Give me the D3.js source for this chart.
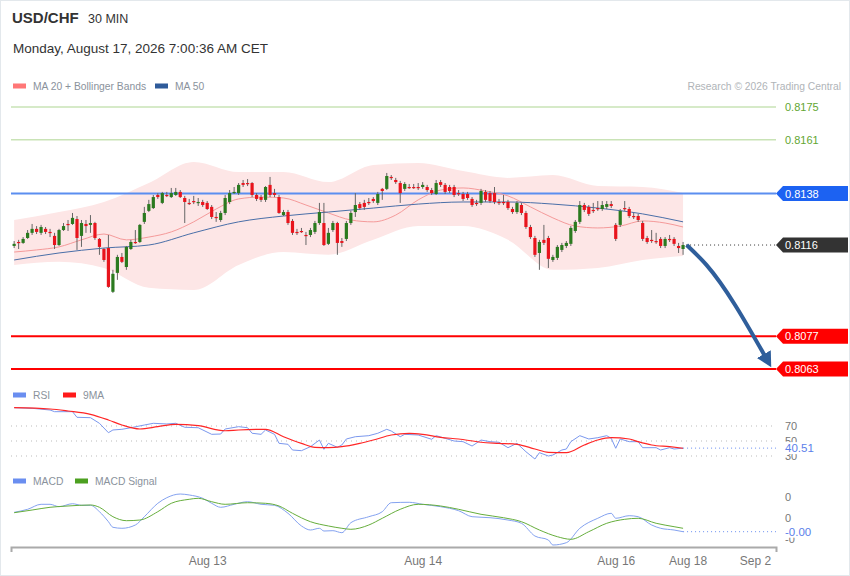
<!DOCTYPE html>
<html><head><meta charset="utf-8">
<script src="https://cdn.jsdelivr.net/npm/d3@7"></script>
<style>body{margin:0;background:#fff;}svg{display:block;font-family:"Liberation Sans",Arial,sans-serif;}</style>
</head><body><svg id="c" width="850" height="576"></svg>
<script>
// ---------- DATA ----------
const symbol = "USD/CHF", period = "30 MIN";
const stamp = "Monday, August 17, 2026 7:00:36 AM CET";
const opens = [0.81156,0.81173,0.81169,0.81190,0.81212,0.81229,0.81212,0.81229,0.81216,0.81199,
0.81160,0.81224,0.81250,0.81250,0.81271,0.81199,0.81250,0.81246,0.81254,0.81186,
0.81143,0.81147,0.80960,0.81041,0.81109,0.81066,0.81143,0.81173,0.81173,0.81259,
0.81306,0.81318,0.81374,0.81340,0.81374,0.81365,0.81374,0.81387,0.81361,0.81340,
0.81348,0.81344,0.81344,0.81340,0.81323,0.81280,0.81267,0.81297,0.81344,0.81387,
0.81382,0.81425,0.81425,0.81425,0.81374,0.81365,0.81353,0.81417,0.81382,0.81365,
0.81288,0.81301,0.81263,0.81216,0.81220,0.81203,0.81203,0.81216,0.81254,0.81254,
0.81165,0.81224,0.81254,0.81177,0.81186,0.81254,0.81301,0.81335,0.81340,0.81344,
0.81357,0.81340,0.81400,0.81400,0.81451,0.81438,0.81425,0.81400,0.81408,0.81408,
0.81408,0.81408,0.81408,0.81395,0.81378,0.81429,0.81417,0.81408,0.81408,0.81382,
0.81378,0.81378,0.81357,0.81340,0.81340,0.81387,0.81382,0.81382,0.81344,0.81344,
0.81344,0.81314,0.81301,0.81331,0.81297,0.81237,0.81190,0.81126,0.81182,0.81190,
0.81096,0.81105,0.81139,0.81156,0.81165,0.81220,0.81259,0.81331,0.81323,0.81310,
0.81318,0.81314,0.81323,0.81335,0.81246,0.81246,0.81318,0.81314,0.81284,0.81284,
0.81254,0.81190,0.81182,0.81177,0.81186,0.81156,0.81186,0.81186,0.81156,0.81143];
const highs = [0.81177,0.81182,0.81194,0.81224,0.81250,0.81241,0.81246,0.81237,0.81229,0.81212,
0.81229,0.81254,0.81267,0.81297,0.81284,0.81267,0.81267,0.81288,0.81259,0.81190,
0.81147,0.81203,0.81054,0.81118,0.81126,0.81156,0.81182,0.81224,0.81250,0.81323,
0.81353,0.81374,0.81382,0.81387,0.81387,0.81404,0.81404,0.81395,0.81370,0.81357,
0.81370,0.81361,0.81353,0.81348,0.81331,0.81301,0.81306,0.81374,0.81395,0.81408,
0.81425,0.81438,0.81442,0.81429,0.81382,0.81374,0.81412,0.81451,0.81400,0.81374,
0.81310,0.81310,0.81271,0.81229,0.81233,0.81216,0.81233,0.81263,0.81340,0.81340,
0.81233,0.81263,0.81259,0.81190,0.81263,0.81306,0.81382,0.81344,0.81353,0.81361,
0.81365,0.81387,0.81404,0.81468,0.81459,0.81447,0.81434,0.81429,0.81421,0.81421,
0.81425,0.81429,0.81417,0.81404,0.81438,0.81438,0.81425,0.81417,0.81417,0.81395,
0.81387,0.81387,0.81365,0.81353,0.81400,0.81395,0.81391,0.81408,0.81357,0.81374,
0.81353,0.81323,0.81348,0.81340,0.81306,0.81246,0.81199,0.81182,0.81246,0.81199,
0.81118,0.81160,0.81169,0.81177,0.81241,0.81267,0.81348,0.81340,0.81331,0.81340,
0.81348,0.81348,0.81348,0.81348,0.81254,0.81314,0.81348,0.81323,0.81297,0.81293,
0.81263,0.81199,0.81224,0.81212,0.81194,0.81194,0.81203,0.81194,0.81169,0.81173];
const lows = [0.81147,0.81143,0.81165,0.81186,0.81203,0.81207,0.81203,0.81207,0.81194,0.81143,
0.81156,0.81220,0.81220,0.81246,0.81139,0.81152,0.81212,0.81212,0.81182,0.81118,
0.81088,0.80977,0.80955,0.81011,0.81083,0.81054,0.81139,0.81165,0.81169,0.81250,
0.81301,0.81314,0.81357,0.81335,0.81365,0.81361,0.81370,0.81361,0.81254,0.81331,
0.81335,0.81327,0.81323,0.81310,0.81271,0.81259,0.81259,0.81288,0.81335,0.81378,
0.81374,0.81408,0.81412,0.81365,0.81348,0.81344,0.81344,0.81365,0.81365,0.81293,
0.81284,0.81246,0.81203,0.81203,0.81212,0.81160,0.81194,0.81207,0.81246,0.81156,
0.81160,0.81216,0.81118,0.81152,0.81177,0.81246,0.81280,0.81310,0.81310,0.81331,
0.81340,0.81331,0.81353,0.81395,0.81438,0.81421,0.81340,0.81391,0.81400,0.81400,
0.81395,0.81400,0.81387,0.81374,0.81374,0.81408,0.81378,0.81382,0.81365,0.81370,
0.81348,0.81353,0.81323,0.81327,0.81331,0.81344,0.81340,0.81335,0.81331,0.81331,
0.81310,0.81293,0.81293,0.81288,0.81229,0.81186,0.81109,0.81054,0.81160,0.81062,
0.81088,0.81096,0.81130,0.81147,0.81156,0.81212,0.81250,0.81301,0.81284,0.81297,
0.81306,0.81306,0.81314,0.81318,0.81177,0.81237,0.81306,0.81276,0.81271,0.81259,
0.81177,0.81165,0.81169,0.81165,0.81147,0.81147,0.81173,0.81156,0.81126,0.81118];
const closes = [0.81165,0.81169,0.81186,0.81212,0.81229,0.81216,0.81237,0.81216,0.81212,0.81160,
0.81224,0.81241,0.81248,0.81276,0.81190,0.81254,0.81241,0.81254,0.81190,0.81152,
0.81096,0.80981,0.81037,0.81109,0.81088,0.81152,0.81173,0.81169,0.81246,0.81297,
0.81335,0.81365,0.81365,0.81382,0.81372,0.81382,0.81387,0.81365,0.81344,0.81338,
0.81346,0.81344,0.81331,0.81314,0.81280,0.81278,0.81297,0.81361,0.81382,0.81387,
0.81417,0.81417,0.81423,0.81374,0.81357,0.81353,0.81408,0.81374,0.81374,0.81297,
0.81301,0.81254,0.81212,0.81214,0.81218,0.81199,0.81224,0.81254,0.81301,0.81160,
0.81212,0.81254,0.81169,0.81169,0.81254,0.81297,0.81331,0.81318,0.81323,0.81342,
0.81348,0.81378,0.81391,0.81455,0.81447,0.81429,0.81382,0.81421,0.81406,0.81406,
0.81406,0.81417,0.81395,0.81382,0.81425,0.81417,0.81387,0.81391,0.81374,0.81380,
0.81357,0.81361,0.81331,0.81338,0.81391,0.81353,0.81348,0.81344,0.81342,0.81342,
0.81318,0.81301,0.81340,0.81297,0.81237,0.81194,0.81118,0.81173,0.81169,0.81101,
0.81109,0.81152,0.81160,0.81169,0.81233,0.81259,0.81331,0.81310,0.81293,0.81308,
0.81316,0.81331,0.81335,0.81327,0.81186,0.81306,0.81314,0.81284,0.81282,0.81267,
0.81186,0.81173,0.81180,0.81175,0.81156,0.81186,0.81184,0.81165,0.81147,0.81160];

const ma20Idx = [0,5,10,15,20,25,30,35,40,45,50,55,60,65,70,75,80,85,90,95,100,105,110,115,120,125,130,135,140,145,149];
const ma20Val = [0.81130,0.81139,0.81152,0.81182,0.81207,0.81182,0.81194,0.81216,0.81259,0.81314,0.81357,0.81365,0.81361,0.81331,0.81297,0.81267,0.81259,0.81288,0.81353,0.81395,0.81404,0.81391,0.81370,0.81323,0.81276,0.81241,0.81233,0.81241,0.81263,0.81254,0.81237];
const bandIdx = [0,10,20,30,40,50,60,70,80,90,100,110,120,130,140,149];
const bandUpper = [0.81267,0.81301,0.81344,0.81425,0.81515,0.81472,0.81472,0.81429,0.81502,0.81511,0.81476,0.81447,0.81459,0.81412,0.81408,0.81382];
const bandLower = [0.81075,0.81088,0.81062,0.80977,0.80968,0.81075,0.81130,0.81118,0.81182,0.81241,0.81241,0.81182,0.81054,0.81062,0.81096,0.81113];
const ma50Val = [0.81096,0.81126,0.81147,0.81160,0.81212,0.81259,0.81284,0.81301,0.81318,0.81335,0.81344,0.81344,0.81335,0.81318,0.81293,0.81259];

const resistances = [0.8175, 0.8161];
const pivotLevel = 0.8138;
const lastPrice = 0.8116;
const supports = [0.8077, 0.8063];
const arrowPts = [[149.8,0.81160],[154.2,0.81075],[167.1,0.80690]];

const rsiIdx = [0,4,8,9,13,14,17,19,21,22,24,26,29,31,34,36,38,41,44,46,47,50,52,53,55,56,58,59,61,62,64,66,68,69,70,72,73,74,76,79,81,83,84,86,87,90,93,94,96,98,100,102,104,106,108,110,112,114,116,117,119,120,122,123,124,126,128,130,132,133,134,135,137,139,140,143,144,146,147,149];
const rsiVal = [94.4,93.6,91.3,89.1,89.1,81.6,81.1,73.6,61.1,64.7,65.6,67.7,71.3,73.6,72.7,73.6,68.3,67.7,58.9,59.3,66,69.1,67.7,60.3,58.9,64.7,58.9,46.9,45.6,38,37.1,42.4,51.3,38.9,46.9,41.6,44.7,52.7,55.7,57.1,60.3,65.6,63.3,55.7,58.9,58,52.3,57.1,53.6,50,49.1,43.3,51.3,49.1,48.3,41.1,46.9,35.7,26,34.4,30,31.3,38,39.3,49.1,57.1,52.7,54.4,57.1,53.6,40.3,52.7,49.1,49.1,41.1,41.1,38,41.1,39.3,40.51];
const rsiMaIdx = [0,8,12,17,21,24,28,32,36,41,47,50,56,60,64,67,70,73,77,80,84,88,91,95,99,104,108,112,116,119,123,127,130,133,137,139,142,146,149];
const rsiMaVal = [94.4,92.7,90,85.6,78,71.3,66,69.1,72.3,70.4,63.7,64.7,65.6,55.7,46.9,41.6,41.1,42.4,46.9,51.3,58,60.3,58.9,54.9,52.7,48.3,46.9,45.6,39.3,34.9,34.4,44.7,51.3,54.4,52.7,49.1,44.7,42.4,40.3];
const rsiLevels = [70, 50, 30];

const macdIdx = [0,3,6,8,10,13,15,17,19,21,22,24,27,29,32,34,37,39,42,44,46,49,52,55,58,61,64,66,68,69,71,73,75,79,82,84,88,91,95,99,102,106,110,113,116,119,120,123,126,130,133,134,137,139,142,144,147,149];
const macdVal = [0.000136,0.000207,0.000326,0.000326,0.000269,0.000340,0.000302,0.000302,0.000150,-0.000088,-0.000221,-0.000245,-0.000167,0.000031,0.000350,0.000483,0.000571,0.000548,0.000469,0.000350,0.000255,0.000326,0.000388,0.000326,0.000302,0.000112,-0.000190,-0.000286,-0.000245,-0.000310,-0.000302,-0.000350,-0.000112,0.000031,0.000150,0.000364,0.000374,0.000326,0.000269,0.000174,0.000031,0.000007,-0.000048,-0.000126,-0.000429,-0.000524,-0.000643,-0.000588,-0.000245,-0.000007,0.000112,-0.000007,0.000055,0.000031,-0.000167,-0.000245,-0.000286,-0.000326];
const sigIdx = [0,4,8,12,17,19,22,25,28,32,35,39,41,44,47,52,56,59,62,66,70,73,75,79,82,86,90,95,99,104,109,113,117,121,124,128,132,136,139,143,147,149];
const sigVal = [0.000126,0.000190,0.000255,0.000286,0.000310,0.000255,0.000031,-0.000064,-0.000048,0.000150,0.000350,0.000445,0.000469,0.000388,0.000326,0.000364,0.000350,0.000286,0.000112,-0.000088,-0.000190,-0.000245,-0.000269,-0.000167,-0.000007,0.000207,0.000326,0.000286,0.000207,0.000088,0.000007,-0.000088,-0.000286,-0.000445,-0.000507,-0.000326,-0.000126,-0.000031,-0.000007,-0.000126,-0.000207,-0.000245];
const macdTicks = [0.0005, 0, -0.0005];

const xTickIdx = [43, 91, 134, 150, 165];
const xTickLabels = ["Aug 13", "Aug 14", "Aug 16", "Aug 18", "Sep 2"];

// ---------- DRAW ----------
const svg = d3.select("#c");
const x = d3.scaleLinear().domain([-0.7, 169.7]).range([11, 776]);
const y = d3.scaleLinear().domain([0.8063, 0.8175]).range([369, 107]);
const yR = d3.scaleLinear().domain([30, 70]).range([456, 426]);
const yM = d3.scaleLinear().domain([-0.0005, 0.0005]).range([539, 497]);
const X0 = 11, X1 = 776;

svg.append("rect").attr("x",0.5).attr("y",0.5).attr("width",849).attr("height",575)
  .attr("fill","#fff").attr("stroke","#e3e8ec");

// header
svg.append("text").attr("x",12).attr("y",23).attr("font-size",15).attr("font-weight","bold").attr("fill","#333").text(symbol);
svg.append("text").attr("x",88).attr("y",23).attr("font-size",12.5).attr("fill","#333").text(period);
svg.append("text").attr("x",13).attr("y",53).attr("font-size",13.5).attr("fill","#333").text(stamp);

function legend(items, yy){
  items.forEach(it=>{
    svg.append("rect").attr("x",it.x).attr("y",yy-2.5).attr("width",13).attr("height",5).attr("fill",it.c);
    svg.append("text").attr("x",it.x+20).attr("y",yy+3.5).attr("font-size",10.3).attr("fill","#8a929c").text(it.t);
  });
}
legend([{x:13,c:"#ff7777",t:"MA 20 + Bollinger Bands"},{x:155,c:"#2f5b9a",t:"MA 50"}], 86);
legend([{x:13,c:"#6a8ef0",t:"RSI"},{x:63,c:"#ff1a1a",t:"9MA"}], 395);
legend([{x:13,c:"#6a8ef0",t:"MACD"},{x:75,c:"#4ca020",t:"MACD Signal"}], 481);
svg.append("text").attr("x",841).attr("y",90).attr("text-anchor","end").attr("font-size",10.3).attr("fill","#b0b4b8").text("Research © 2026 Trading Central");

// bollinger band
const bandData = bandIdx.map((d,i)=>({i:d,u:bandUpper[i],l:bandLower[i]}));
svg.append("path").datum(bandData)
  .attr("d", d3.area().curve(d3.curveMonotoneX).x(d=>x(d.i)).y0(d=>y(d.l)).y1(d=>y(d.u)))
  .attr("fill","#fde6e6");

// resistance lines
resistances.forEach(v=>{
  svg.append("line").attr("x1",X0).attr("x2",X1).attr("y1",y(v)).attr("y2",y(v)).attr("stroke","#c9e3b6").attr("stroke-width",1.5);
  svg.append("text").attr("x",785).attr("y",y(v)+4).attr("font-size",11).attr("fill","#62a632").text(v.toFixed(4));
});
svg.append("line").attr("x1",X0).attr("x2",X1).attr("y1",y(pivotLevel)).attr("y2",y(pivotLevel)).attr("stroke","#5b8ef0").attr("stroke-width",2);
supports.forEach(v=>{
  svg.append("line").attr("x1",X0).attr("x2",X1).attr("y1",y(v)).attr("y2",y(v)).attr("stroke","#ff0000").attr("stroke-width",2);
});

// MAs
svg.append("path").datum(ma20Idx.map((d,i)=>[d,ma20Val[i]]))
  .attr("d", d3.line().curve(d3.curveMonotoneX).x(d=>x(d[0])).y(d=>y(d[1])))
  .attr("fill","none").attr("stroke","#f59a9a").attr("stroke-width",1);
svg.append("path").datum(bandIdx.map((d,i)=>[d,ma50Val[i]]))
  .attr("d", d3.line().curve(d3.curveMonotoneX).x(d=>x(d[0])).y(d=>y(d[1])))
  .attr("fill","none").attr("stroke","#4a6fa8").attr("stroke-width",1);

// candles
const candles = opens.map((o,i)=>({i,o,h:highs[i],l:lows[i],c:closes[i]}));
const cg = svg.append("g");
cg.selectAll("line.w").data(candles).join("line").attr("class","w")
  .attr("x1",d=>x(d.i)).attr("x2",d=>x(d.i)).attr("y1",d=>y(d.h)).attr("y2",d=>y(d.l))
  .attr("stroke","#666").attr("stroke-width",1);
cg.selectAll("rect").data(candles).join("rect")
  .attr("x",d=>x(d.i)-1.6).attr("width",3.2)
  .attr("y",d=>y(Math.max(d.o,d.c)))
  .attr("height",d=>Math.max(1.2, Math.abs(y(d.o)-y(d.c))))
  .attr("fill",d=>d.c>=d.o?"#2b7a1f":"#e8141c");

// last price dotted
svg.append("line").attr("x1",x(149)+3).attr("x2",X1).attr("y1",y(lastPrice)).attr("y2",y(lastPrice))
  .attr("stroke","#333").attr("stroke-dasharray","1,3");

// arrow
const defs = svg.append("defs");
defs.append("marker").attr("id","ah").attr("markerUnits","userSpaceOnUse")
  .attr("markerWidth",18).attr("markerHeight",18).attr("refX",1).attr("refY",8).attr("orient","auto")
  .append("path").attr("d","M0,0 L15,8 L0,16 Z").attr("fill","#2f5e9b");
svg.append("path").datum(arrowPts)
  .attr("d", d3.line().curve(d3.curveMonotoneX).x(d=>x(d[0])).y(d=>y(d[1])))
  .attr("fill","none").attr("stroke","#2f5e9b").attr("stroke-width",4).attr("marker-end","url(#ah)");

// tags
function tag(v, col, txt){
  const yy = y(v);
  svg.append("path").attr("d",`M${X1},${yy} L${X1+7},${yy-7.5} L848,${yy-7.5} L848,${yy+7.5} L${X1+7},${yy+7.5} Z`).attr("fill",col);
  svg.append("text").attr("x",785).attr("y",yy+4).attr("font-size",11).attr("fill","#fff").text(txt);
}
tag(pivotLevel, "#1c62f2", pivotLevel.toFixed(4));
tag(lastPrice, "#333333", lastPrice.toFixed(4));
supports.forEach(v=>tag(v, "#ff0000", v.toFixed(4)));

// RSI panel
rsiLevels.forEach(v=>{
  svg.append("line").attr("x1",X0).attr("x2",X1).attr("y1",yR(v)).attr("y2",yR(v))
    .attr("stroke","#bbb").attr("stroke-dasharray","1,4");
});
const ra = svg.append("g").attr("transform",`translate(${X1},0)`)
  .call(d3.axisRight(yR).tickValues(rsiLevels).tickSize(0).tickPadding(9));
ra.select(".domain").remove();
ra.selectAll("text").attr("font-size",11).attr("fill","#777").attr("font-family","Liberation Sans, Arial");
svg.append("path").datum(rsiIdx.map((d,i)=>[d,rsiVal[i]]))
  .attr("d", d3.line().x(d=>x(d[0])).y(d=>yR(d[1])))
  .attr("fill","none").attr("stroke","#7b98ee").attr("stroke-width",1);
svg.append("path").datum(rsiMaIdx.map((d,i)=>[d,rsiMaVal[i]]))
  .attr("d", d3.line().curve(d3.curveMonotoneX).x(d=>x(d[0])).y(d=>yR(d[1])))
  .attr("fill","none").attr("stroke","#ff2626").attr("stroke-width",1.2);
const rsiLast = rsiVal[rsiVal.length-1];
svg.append("line").attr("x1",x(149)).attr("x2",X1).attr("y1",yR(rsiLast)).attr("y2",yR(rsiLast))
  .attr("stroke","#6a8ef0").attr("stroke-dasharray","1,3");
svg.append("rect").attr("x",783).attr("y",yR(rsiLast)-6).attr("width",32).attr("height",12).attr("fill","#fff");
svg.append("text").attr("x",785).attr("y",yR(rsiLast)+4).attr("font-size",11.5).attr("fill","#5b80ea").text(rsiLast.toFixed(2));

// MACD panel
const ma = svg.append("g").attr("transform",`translate(${X1},0)`)
  .call(d3.axisRight(yM).tickValues(macdTicks).tickSize(0).tickPadding(9).tickFormat(v=>v.toFixed(0)));
ma.select(".domain").remove();
ma.selectAll("text").attr("font-size",11).attr("fill","#777").attr("font-family","Liberation Sans, Arial");
svg.append("path").datum(macdIdx.map((d,i)=>[d,macdVal[i]]))
  .attr("d", d3.line().curve(d3.curveMonotoneX).x(d=>x(d[0])).y(d=>yM(d[1])))
  .attr("fill","none").attr("stroke","#84a2f0").attr("stroke-width",1);
svg.append("path").datum(sigIdx.map((d,i)=>[d,sigVal[i]]))
  .attr("d", d3.line().curve(d3.curveMonotoneX).x(d=>x(d[0])).y(d=>yM(d[1])))
  .attr("fill","none").attr("stroke","#66ae3c").attr("stroke-width",1);
const macdLast = macdVal[macdVal.length-1];
svg.append("line").attr("x1",x(149)).attr("x2",X1).attr("y1",yM(macdLast)).attr("y2",yM(macdLast))
  .attr("stroke","#6a8ef0").attr("stroke-dasharray","1,3");
svg.append("rect").attr("x",783).attr("y",yM(macdLast)-6).attr("width",40).attr("height",12).attr("fill","#fff");
svg.append("text").attr("x",785).attr("y",yM(macdLast)+4).attr("font-size",11.5).attr("fill","#5b80ea").text(macdLast.toFixed(2));

// x axis
const xa = svg.append("g").attr("transform","translate(0,547)")
  .call(d3.axisBottom(x).tickValues(xTickIdx).tickFormat((d,i)=>xTickLabels[i]).tickSizeInner(0).tickSizeOuter(5).tickPadding(9));
xa.select(".domain").attr("stroke","#aaa").attr("stroke-width",2);
xa.selectAll("text").attr("font-size",12).attr("fill","#777").attr("font-family","Liberation Sans, Arial");
</script></body></html>
